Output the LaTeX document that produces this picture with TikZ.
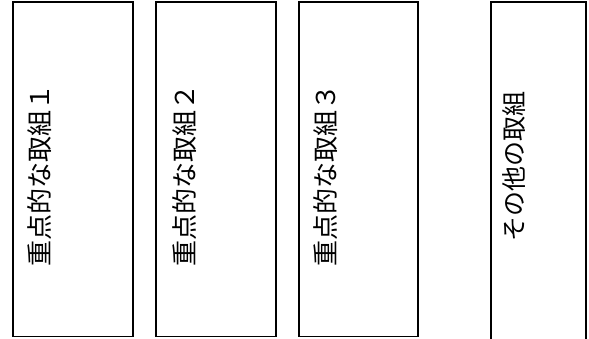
\documentclass[tikz,border=0pt]{standalone}
\usepackage{fontspec}
\newfontfamily\jpfont{Noto Sans CJK JP}
\begin{document}
\begin{tikzpicture}[x=1pt,y=-1pt,
  colbox/.style={draw=black,line width=1.2pt,fill=none},
  coltext/.style={font=\jpfont\fontsize{26}{31}\selectfont,rotate=90,inner sep=0pt,anchor=center},
  othertext/.style={font=\jpfont\fontsize{25}{30}\selectfont,rotate=90,inner sep=0pt,anchor=center}]
\useasboundingbox (0,0) rectangle (589,338);
\draw[colbox] (13,2) rectangle (133,336.5);
\draw[colbox] (156,2) rectangle (276,336.5);
\draw[colbox] (299,2) rectangle (418,336.5);
\draw[colbox] (491,345) -- (491,2) -- (586,2) -- (586,345);
\node[coltext] (t1) at (40,175.5) {重点的な取組１};
\node[coltext] (t2) at (185,175) {重点的な取組２};
\node[coltext] (t3) at (326,175) {重点的な取組３};
\node[othertext] (t4) at (514,166.5) {その他の取組};
\end{tikzpicture}
\end{document}
